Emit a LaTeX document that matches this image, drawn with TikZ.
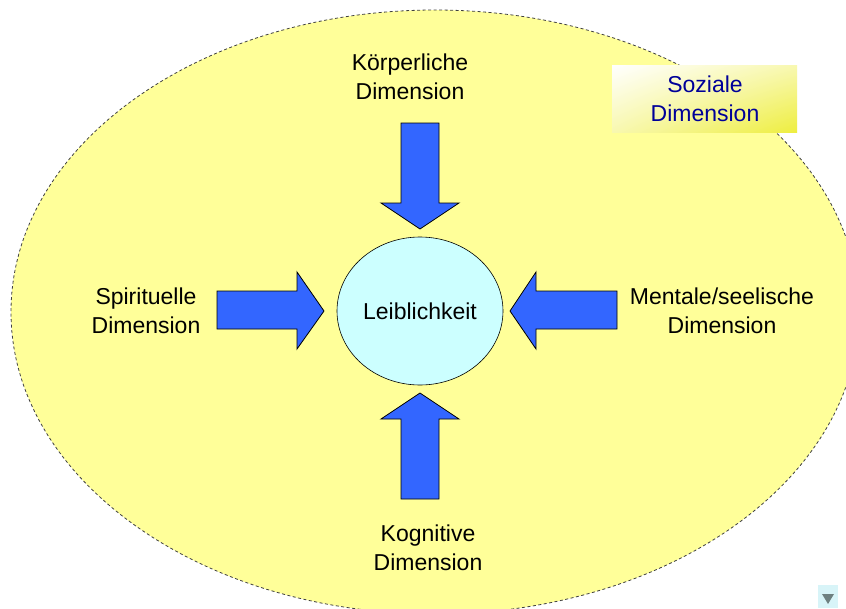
\documentclass[tikz,border=0pt]{standalone}
\usepackage{fontspec}
\setmainfont{Liberation Sans}
\usetikzlibrary{shadings,shapes.geometric}
\definecolor{bgyellow}{HTML}{FFFF99}
\definecolor{core}{HTML}{CCFFFF}
\definecolor{arrowblue}{HTML}{3366FF}
\definecolor{navytext}{HTML}{000099}
\definecolor{boxyel}{HTML}{EEEE40}
\definecolor{boxmid}{HTML}{F8F8B0}
\definecolor{btn}{HTML}{D8F4F8}
\definecolor{btntri}{HTML}{6E8080}
\begin{document}
\begin{tikzpicture}[x=1pt,y=-1pt,
  lbl/.style={font=\fontsize{23}{29}\selectfont, align=center, inner sep=0pt},
  bigarrow/.style={fill=arrowblue, draw=black, line width=0.8pt, line join=miter}]
\useasboundingbox (0,0) rectangle (846,608);
\fill[white] (0,0) rectangle (846,608);
\begin{scope}
\clip (0,0) rectangle (846,608);
\draw[fill=bgyellow, draw=black!75, dash pattern=on 3pt off 2.5pt, line width=0.8pt]
  (435,312) ellipse [x radius=424, y radius=302];
\end{scope}
% Soziale Dimension box
\shade[upper left=white, lower right=boxyel, upper right=boxmid, lower left=boxmid]
  (612,65) rectangle (797,132);
\node[lbl, text=navytext] (soz) at (705,99) {Soziale\\Dimension};
% center
\node[draw=black, line width=0.6pt, fill=core, ellipse, minimum width=166pt, minimum height=148pt, inner sep=0pt] (core) at (420,311) {};
\node[lbl] (leib) at (420,311) {Leiblichkeit};
% arrows
\draw[bigarrow] (401,123) -- (439,123) -- (439,203) -- (459,203) -- (420,229) -- (381,203) -- (401,203) -- cycle;
\draw[bigarrow] (401,499) -- (439,499) -- (439,419) -- (459,419) -- (420,393) -- (381,419) -- (401,419) -- cycle;
\draw[bigarrow] (217,291) -- (297,291) -- (297,272) -- (324,311) -- (297,349) -- (297,329) -- (217,329) -- cycle;
\draw[bigarrow] (617,291) -- (536,291) -- (536,272) -- (510,311) -- (536,349) -- (536,329) -- (617,329) -- cycle;
% labels
\node[lbl] (koer) at (410,77) {Körperliche\\Dimension};
\node[lbl] (spir) at (146,311) {Spirituelle\\Dimension};
\node[lbl] (ment) at (722,311) {Mentale/seelische\\Dimension};
\node[lbl] (kogn) at (428,548) {Kognitive\\Dimension};
% scroll button
\fill[btn] (818,585) rectangle (838,608);
\fill[btntri] (822,594) -- (834,594) -- (828,604) -- cycle;
\end{tikzpicture}
\end{document}
